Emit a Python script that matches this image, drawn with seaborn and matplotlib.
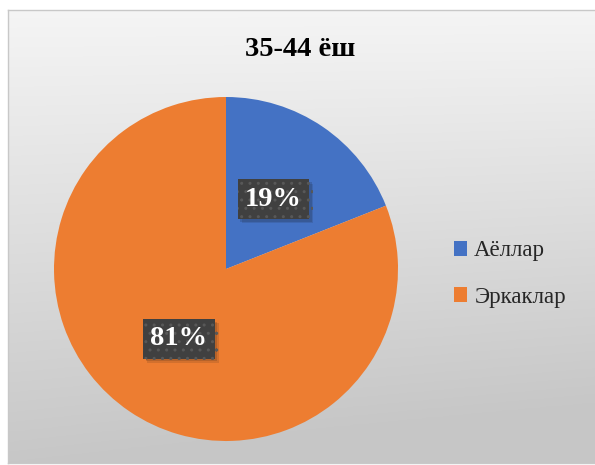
import numpy as np
import matplotlib
matplotlib.use("Agg")
import matplotlib.pyplot as plt
import matplotlib.patches as mpatches
import matplotlib.patheffects as pe
import seaborn as sns

title = "35-44 ёш"
categories = ["Аёллар", "Эркаклар"]
values = [19, 81]
colors = ["#4472C4", "#ED7D31"]

sns.set_style("white")
plt.rcParams['font.family'] = ['Liberation Serif', 'DejaVu Serif']

W, H = 595, 465
fig = plt.figure(figsize=(W / 100, H / 100), dpi=100)
fig.patch.set_facecolor("white")

# background panel with gradient
bg = fig.add_axes([8 / W, 2 / H, 1 - 8 / W + 0.01, 453 / H])
grad = np.linspace(0, 1, 256)[:, None] * np.ones((1, 64))
grad = grad + 0.15 * np.linspace(0, 1, 64)[None, :] * np.linspace(0, 1, 256)[:, None]
top, bot = np.array([0.96, 0.96, 0.96]), np.array([0.78, 0.78, 0.78])
g = np.clip(grad, 0, 1)[..., None]
img = top * (1 - g) + bot * g
bg.imshow(img, aspect="auto", extent=[0, 1, 0, 1], origin="upper")
bg.set_xlim(0, 1); bg.set_ylim(0, 1)
bg.set_xticks([]); bg.set_yticks([])
for s in bg.spines.values():
    s.set_color("#c8c8c8"); s.set_linewidth(1.0)
bg.set_zorder(0)

cx, cy, r = 226, 269, 172
ax = fig.add_axes([(cx - r) / W, (H - cy - r) / H, 2 * r / W, 2 * r / H])
ax.set_zorder(1)
ax.patch.set_alpha(0)
wedges, texts, autotexts = ax.pie(
    values, colors=colors, startangle=90, counterclock=False,
    autopct=lambda p: f"{p:.0f}%", pctdistance=0.49,
    wedgeprops=dict(linewidth=0),
    textprops=dict(color="white", fontsize=20.5, fontweight="bold"))
ax.set_xlim(-1, 1); ax.set_ylim(-1, 1)
ax.set_aspect("auto")
for t in autotexts:
    t.set_bbox(dict(boxstyle="square,pad=0.26", facecolor="#404040",
                    edgecolor="#585858", hatch="..", linewidth=0))
    t.get_bbox_patch().set_path_effects(
        [pe.SimplePatchShadow(offset=(3, -3), alpha=0.12),
         pe.SimplePatchShadow(offset=(2, -2), alpha=0.15),
         pe.Normal()])

fig.text(300 / W, 1 - 50 / H, title, ha="center", va="center",
         fontsize=20.5, fontweight="bold", color="black")

handles = [mpatches.Patch(facecolor=c, edgecolor="none") for c in colors]
leg = fig.legend(handles, categories, loc="center left",
                 bbox_to_anchor=(433 / W, 1 - 274 / H), frameon=False,
                 fontsize=16.5, handlelength=0.6, handleheight=0.6,
                 handletextpad=0.3, labelspacing=1.1)

fig.savefig("out.png", dpi=100)
